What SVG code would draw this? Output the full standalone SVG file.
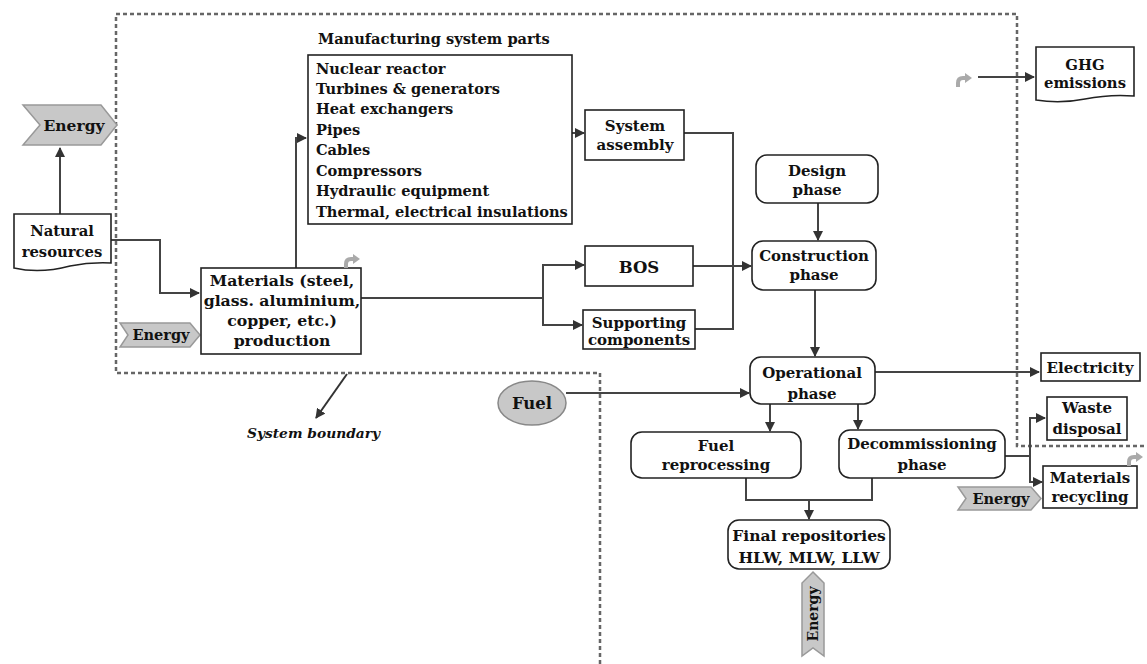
<svg xmlns="http://www.w3.org/2000/svg" width="1147" height="664" viewBox="0 0 1147 664">
<style>
text{font-family:"DejaVu Serif","Liberation Serif",serif;font-weight:bold;font-size:15px;fill:#111}
.c{text-anchor:middle}
.it{font-size:14.6px}
.mt{font-size:15.7px}
.box{fill:#fff;stroke:#222;stroke-width:1.6}
.chev{fill:#c8c8c8;stroke:#999;stroke-width:1.5}
.ln{fill:none;stroke:#444;stroke-width:2}
.bd{fill:none;stroke:#666;stroke-width:2.5;stroke-dasharray:4 3}
.rc{fill:none;stroke:#aaa;stroke-width:4}
</style>
<defs>
<marker id="ah" viewBox="0 0 10 10" refX="9" refY="5" markerWidth="5" markerHeight="5" orient="auto">
<path d="M0,0 L10,5 L0,10 Z" fill="#333"/>
</marker>
<g id="rcy">
<path d="M0,10 V6 Q0,1 5,1 H8" class="rc"/>
<path d="M7,-4 L14,1 L7,6 Z" fill="#aaa"/>
</g>
</defs>
<rect width="1147" height="664" fill="#fff"/>
<g id="boundary">
<path class="bd" d="M600,664 V373 H116 V14 H1017 V446 H1147"/>
<line x1="347" y1="374" x2="316" y2="418" stroke="#333" stroke-width="2" marker-end="url(#ah)"/>
<text x="247" y="438" style="font-style:italic;font-size:13.8px">System boundary</text>
</g>
<g id="connectors">
<line class="ln" x1="60" y1="214" x2="60" y2="148" marker-end="url(#ah)"/>
<path class="ln" d="M111,240 H160 V293 H199" marker-end="url(#ah)"/>
<path class="ln" d="M296,268 V138 H306" marker-end="url(#ah)"/>
<line class="ln" x1="572" y1="133" x2="584" y2="133" marker-end="url(#ah)"/>
<path class="ln" d="M361,298 H543"/>
<path class="ln" d="M543,298 V265 H584" marker-end="url(#ah)"/>
<path class="ln" d="M543,298 V325 H582" marker-end="url(#ah)"/>
<path class="ln" d="M684,133 H733 V329 H695"/>
<line class="ln" x1="693" y1="266" x2="751" y2="266" marker-end="url(#ah)"/>
<line class="ln" x1="818" y1="203" x2="818" y2="240" marker-end="url(#ah)"/>
<line class="ln" x1="815" y1="290" x2="815" y2="356" marker-end="url(#ah)"/>
<line class="ln" x1="566" y1="393" x2="749" y2="393" marker-end="url(#ah)"/>
<line class="ln" x1="875" y1="372" x2="1039" y2="372" marker-end="url(#ah)"/>
<line class="ln" x1="770" y1="404" x2="770" y2="431" marker-end="url(#ah)"/>
<line class="ln" x1="858" y1="404" x2="858" y2="429" marker-end="url(#ah)"/>
<path class="ln" d="M746,478 V500 H872 V478"/>
<line class="ln" x1="809" y1="500" x2="809" y2="519" marker-end="url(#ah)"/>
<path class="ln" d="M1005,456 H1030"/>
<path class="ln" d="M1030,456 V418 H1045" marker-end="url(#ah)"/>
<path class="ln" d="M1030,456 V482 H1042" marker-end="url(#ah)"/>
<line class="ln" x1="978" y1="77" x2="1034" y2="77" marker-end="url(#ah)"/>
</g>
<g id="energy1">
<path class="chev" d="M23,105 H101 L117,125 L101,145 H23 L40,125 Z"/>
<text x="74" y="131" class="c" style="font-size:15.5px">Energy</text>
</g>
<g id="natural">
<path class="box" d="M14,214 H111 V263 Q90,262 70,266 Q40,274 14,268 Z"/>
<text x="62" y="236" class="c" style="font-size:14.8px">Natural</text>
<text x="62" y="257" class="c" style="font-size:14.8px">resources</text>
</g>
<g id="energy2">
<path class="chev" d="M120,323 H190 L200,335 L190,347 H120 L128,335 Z"/>
<text x="161" y="340" class="c" style="font-size:14.5px">Energy</text>
</g>
<g id="materials">
<rect class="box" x="201" y="268" width="160" height="86"/>
<text x="282" y="286" class="c mt">Materials (steel,</text>
<text x="282" y="306" class="c mt">glass. aluminium,</text>
<text x="282" y="326" class="c mt">copper, etc.)</text>
<text x="282" y="346" class="c mt">production</text>
<use href="#rcy" x="346" y="258"/>
</g>
<g id="manufacturing">
<text x="318" y="44" style="font-size:14.6px">Manufacturing system parts</text>
<rect class="box" x="308" y="55" width="264" height="169"/>
<text x="316" y="74" class="it">Nuclear reactor</text>
<text x="316" y="94" class="it">Turbines &amp; generators</text>
<text x="316" y="114" class="it">Heat exchangers</text>
<text x="316" y="135" class="it">Pipes</text>
<text x="316" y="155" class="it">Cables</text>
<text x="316" y="176" class="it">Compressors</text>
<text x="316" y="196" class="it">Hydraulic equipment</text>
<text x="316" y="217" class="it">Thermal, electrical insulations</text>
</g>
<g id="assembly">
<rect class="box" x="585" y="110" width="99" height="50"/>
<text x="635" y="131" class="c">System</text>
<text x="635" y="150" class="c">assembly</text>
</g>
<g id="bos">
<rect class="box" x="585" y="246" width="108" height="40"/>
<text x="639" y="273" class="c" style="font-size:16.5px">BOS</text>
</g>
<g id="supporting">
<rect class="box" x="583" y="310" width="112" height="39"/>
<text x="639" y="328" class="c">Supporting</text>
<text x="639" y="345" class="c">components</text>
</g>
<g id="design">
<rect class="box" x="756" y="155" width="122" height="48" rx="11"/>
<text x="817" y="176" class="c">Design</text>
<text x="817" y="195" class="c">phase</text>
</g>
<g id="construction">
<rect class="box" x="752" y="241" width="124" height="49" rx="11"/>
<text x="814" y="261" class="c">Construction</text>
<text x="814" y="280" class="c">phase</text>
</g>
<g id="operational">
<rect class="box" x="750" y="357" width="125" height="47" rx="11"/>
<text x="812" y="378" class="c">Operational</text>
<text x="812" y="399" class="c">phase</text>
</g>
<g id="fuel">
<ellipse cx="532" cy="403" rx="34" ry="22" fill="#c8c8c8" stroke="#888" stroke-width="1.5"/>
<text x="532" y="409" class="c" style="font-size:16.5px">Fuel</text>
</g>
<g id="electricity">
<rect class="box" x="1041" y="353" width="99" height="28"/>
<text x="1090" y="373" class="c">Electricity</text>
</g>
<g id="reprocessing">
<rect class="box" x="631" y="432" width="170" height="46" rx="11"/>
<text x="716" y="451" class="c">Fuel</text>
<text x="716" y="470" class="c">reprocessing</text>
</g>
<g id="decommissioning">
<rect class="box" x="839" y="430" width="166" height="48" rx="11"/>
<text x="922" y="449" class="c">Decommissioning</text>
<text x="922" y="470" class="c">phase</text>
</g>
<g id="waste">
<rect class="box" x="1047" y="397" width="80" height="43"/>
<text x="1087" y="413" class="c">Waste</text>
<text x="1087" y="434" class="c">disposal</text>
</g>
<g id="recycling">
<rect class="box" x="1043" y="466" width="94" height="42"/>
<text x="1090" y="483" class="c">Materials</text>
<text x="1090" y="502" class="c">recycling</text>
<use href="#rcy" x="1129" y="456"/>
</g>
<g id="energy3">
<path class="chev" d="M958,487 H1031 L1041,498.5 L1031,510 H958 L966,498.5 Z"/>
<text x="1001" y="504" class="c" style="font-size:14.5px">Energy</text>
</g>
<g id="repositories">
<rect class="box" x="728" y="520" width="162" height="49" rx="11"/>
<text x="809" y="541" class="c" style="font-size:15.5px">Final repositories</text>
<text x="809" y="563" class="c" style="font-size:15.5px">HLW, MLW, LLW</text>
</g>
<g id="energy4">
<path class="chev" d="M813,572 L824,583 V656 L813,648 L802,656 V583 Z"/>
<text transform="translate(818,614) rotate(-90)" class="c" style="font-size:14px">Energy</text>
</g>
<g id="ghg">
<path class="box" d="M1036,47 H1134 V96 Q1110,94 1085,99 Q1060,104 1036,100 Z"/>
<text x="1085" y="70" class="c" style="font-size:14.8px">GHG</text>
<text x="1085" y="88" class="c" style="font-size:14.8px">emissions</text>
<use href="#rcy" x="958" y="77"/>
</g>
</svg>
